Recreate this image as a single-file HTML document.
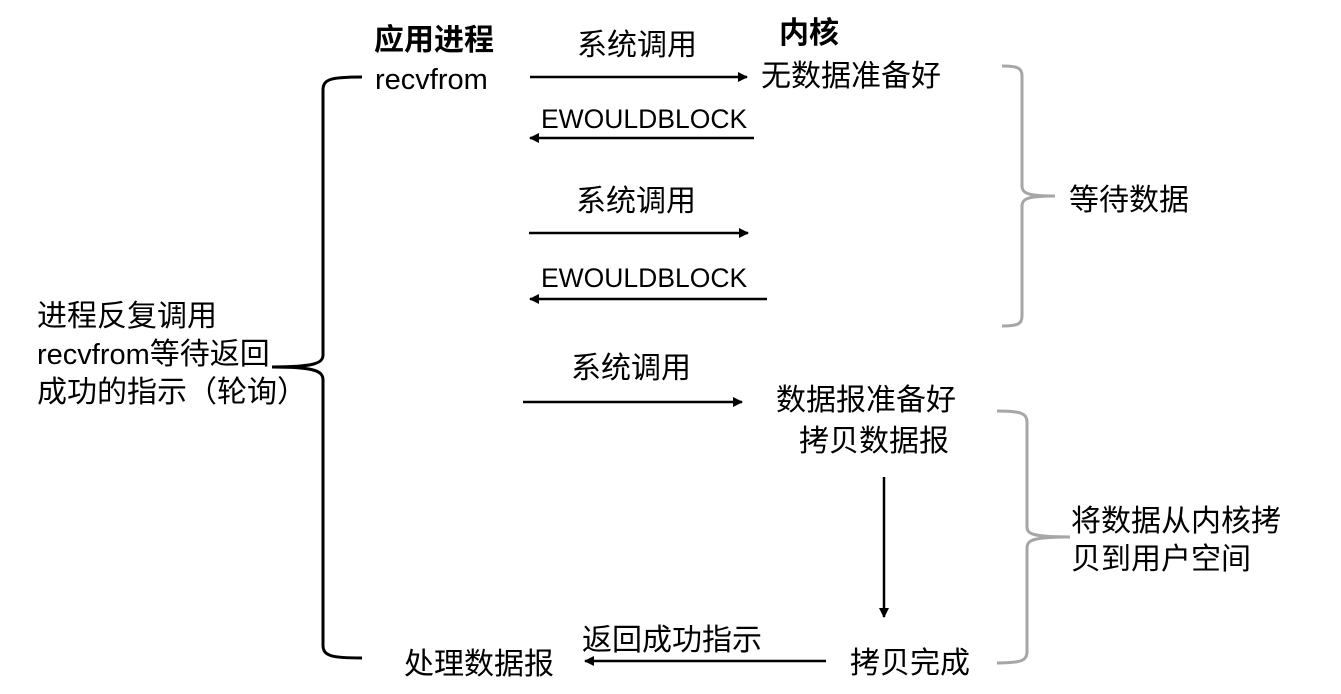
<!DOCTYPE html>
<html>
<head>
<meta charset="utf-8">
<style>
html,body{margin:0;padding:0;background:#fff;}
svg{display:block;}
text{font-family:"Liberation Sans","Noto Sans CJK SC",sans-serif;font-size:30px;fill:#000;}
.b{font-weight:bold;}
.e{font-size:26.5px;}
.r{font-size:29px;}
</style>
</head>
<body>
<svg width="1341" height="694" viewBox="0 0 1341 694" xmlns="http://www.w3.org/2000/svg">
<defs>
<marker id="ah" viewBox="0 0 10 10" refX="9" refY="5" markerWidth="4.2" markerHeight="4" markerUnits="strokeWidth" orient="auto">
<path d="M0,0 L10,5 L0,10 z" fill="#000"/>
</marker>
</defs>

<!-- Left brace -->
<g fill="none" stroke="#000" stroke-width="3">
<path d="M362,77 C331,77 323,79 323,90 L323,355 C323,363 315,367 272,367"/>
<path d="M272,367 C315,367 323,371 323,380 L323,645 C323,656 331,658 362,658"/>
</g>

<!-- Right braces -->
<g fill="none" stroke="#a6a6a6" stroke-width="3">
<path d="M1002,66 C1018,66 1022,68 1022,76 L1022,186 C1022,193 1027,196 1055,196"/>
<path d="M1055,196 C1027,196 1022,199 1022,206 L1022,316 C1022,324 1018,326 1002,326"/>
<path d="M997,411 C1020,411 1027,413 1027,422 L1027,527 C1027,534 1033,537 1070,537"/>
<path d="M1070,537 C1033,537 1027,540 1027,548 L1027,652 C1027,661 1020,663 997,663"/>
</g>

<!-- Arrows -->
<g stroke="#000" stroke-width="2.5" fill="none">
<line x1="530" y1="77" x2="747" y2="77" marker-end="url(#ah)"/>
<line x1="754" y1="138" x2="530" y2="138" marker-end="url(#ah)"/>
<line x1="529" y1="233" x2="748" y2="233" marker-end="url(#ah)"/>
<line x1="767" y1="299" x2="530" y2="299" marker-end="url(#ah)"/>
<line x1="523" y1="402" x2="742" y2="402" marker-end="url(#ah)"/>
<line x1="884" y1="477" x2="884" y2="617" marker-end="url(#ah)"/>
<line x1="826" y1="661" x2="585" y2="661" marker-end="url(#ah)"/>
</g>

<!-- Texts -->
<text class="b" x="374" y="50">应用进程</text>
<text class="b" x="779" y="43">内核</text>
<text x="577" y="55">系统调用</text>
<text class="r" x="375" y="89">recvfrom</text>
<text x="761" y="86">无数据准备好</text>
<text class="e" x="541" y="128">EWOULDBLOCK</text>
<text x="576" y="211">系统调用</text>
<text class="e" x="541" y="287">EWOULDBLOCK</text>
<text x="571" y="378">系统调用</text>
<text x="776" y="410">数据报准备好</text>
<text x="799" y="451">拷贝数据报</text>
<text x="582" y="650">返回成功指示</text>
<text x="404" y="674">处理数据报</text>
<text x="850" y="673">拷贝完成</text>
<text x="1069" y="210">等待数据</text>
<text x="1071" y="531">将数据从内核拷</text>
<text x="1071" y="569">贝到用户空间</text>
<text x="37" y="326">进程反复调用</text>
<text x="37" y="364"><tspan class="r">recvfrom</tspan>等待返回</text>
<text x="37" y="402">成功的指示（轮询）</text>
</svg>
</body>
</html>
